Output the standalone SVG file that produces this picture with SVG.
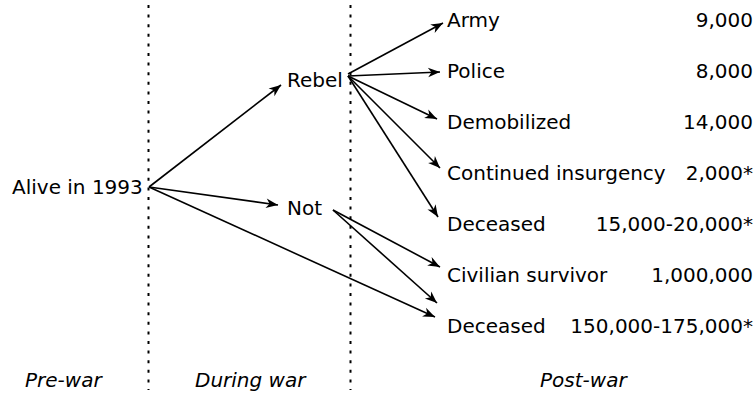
<svg xmlns="http://www.w3.org/2000/svg" width="756" height="396" viewBox="0 0 756 396">
  <style>
    text { font-family: "DejaVu Sans", sans-serif; font-size: 20px; fill: #000; }
    .num { text-anchor: end; }
    .era { font-style: italic; }
    .div { stroke: #000; stroke-width: 2; stroke-dasharray: 3 6.6; fill: none; }
    .edge { stroke: #000; stroke-width: 1.6; fill: none; marker-end: url(#arrow); }
  </style>
  <defs>
    <marker id="arrow" viewBox="-13 -6 14 12" refX="0" refY="0" markerWidth="14" markerHeight="12" markerUnits="userSpaceOnUse" orient="auto">
      <path d="M0,0 L-12,-4.8 L-8.5,0 L-12,4.8 Z" fill="#000"/>
    </marker>
  </defs>
  <rect width="756" height="396" fill="#fff"/>

  <g id="dividers">
    <line class="div" x1="148.5" y1="5" x2="148.5" y2="390"/>
    <line class="div" x1="350.5" y1="5" x2="350.5" y2="390"/>
  </g>

  <g id="connectors">
    <line class="edge" x1="149" y1="187" x2="281" y2="85"/>
    <line class="edge" x1="149" y1="187" x2="278" y2="205"/>
    <line class="edge" x1="149" y1="187" x2="435" y2="317"/>
    <line class="edge" x1="348" y1="74" x2="443" y2="23"/>
    <line class="edge" x1="348" y1="76" x2="440" y2="72"/>
    <line class="edge" x1="348" y1="76" x2="437" y2="119"/>
    <line class="edge" x1="348" y1="76" x2="440" y2="168"/>
    <line class="edge" x1="348" y1="76" x2="438" y2="217"/>
    <line class="edge" x1="333" y1="210" x2="440" y2="267"/>
    <line class="edge" x1="333" y1="210" x2="437" y2="303"/>
  </g>

  <g id="alive"><text x="12" y="194">Alive in 1993</text></g>
  <g id="rebel"><text x="287" y="87">Rebel</text></g>
  <g id="not"><text x="287" y="215">Not</text></g>

  <g id="army"><text x="447" y="27">Army</text><text class="num" x="753" y="27">9,000</text></g>
  <g id="police"><text x="447" y="78">Police</text><text class="num" x="753" y="78">8,000</text></g>
  <g id="demobilized"><text x="447" y="129">Demobilized</text><text class="num" x="753" y="129">14,000</text></g>
  <g id="insurgency"><text x="447" y="180">Continued insurgency</text><text class="num" x="753" y="180">2,000*</text></g>
  <g id="rebel-deceased"><text x="447" y="231">Deceased</text><text class="num" x="753" y="231">15,000-20,000*</text></g>
  <g id="civilian"><text x="447" y="282">Civilian survivor</text><text class="num" x="753" y="282">1,000,000</text></g>
  <g id="civ-deceased"><text x="447" y="333">Deceased</text><text class="num" x="753" y="333">150,000-175,000*</text></g>

  <g id="eras">
    <text class="era" x="25" y="387">Pre-war</text>
    <text class="era" x="195" y="387">During war</text>
    <text class="era" x="540" y="387">Post-war</text>
  </g>
</svg>
